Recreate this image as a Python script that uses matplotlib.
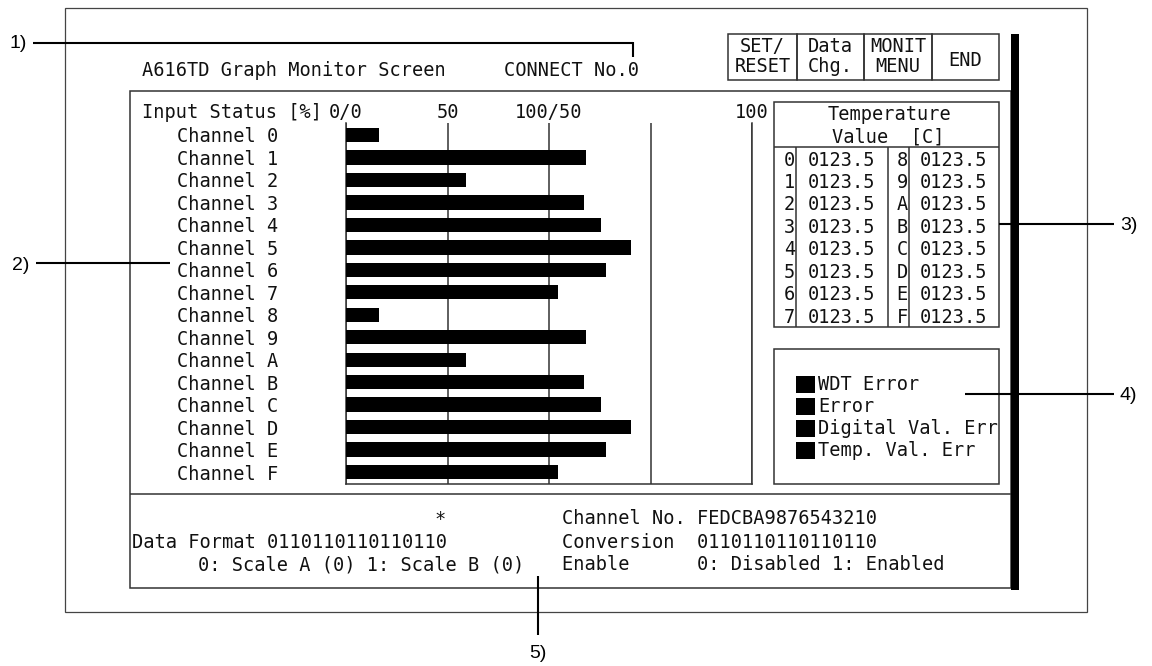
import matplotlib.pyplot as plt
from matplotlib.patches import Rectangle

W, H = 1152, 666
MONO = 'DejaVu Sans Mono'
SANS = 'Liberation Sans'
FS = 13.4

# screen data
channels = list('0123456789ABCDEF')
input_status = [8.1, 59.1, 29.6, 58.6, 62.8, 70.2, 64.0, 52.2,
                8.1, 59.1, 29.6, 58.6, 62.8, 70.2, 64.0, 52.2]
scale_ticks = [0, 25, 50, 75, 100]
scale_labels = ['0/0', '50', '100/50', '', '100']
temp_values = ['0123.5'] * 16
status_items = ['WDT Error', 'Error', 'Digital Val. Err', 'Temp. Val. Err']
buttons = [['SET/', 'RESET'], ['Data', 'Chg.'], ['MONIT', 'MENU'], ['END']]
data_format = '0110110110110110'
conversion = '0110110110110110'
channel_order = 'FEDCBA9876543210'
callouts = ['1)', '2)', '3)', '4)', '5)']


def line(ax, x0, y0, x1, y1, lw=1.1, color='#333333'):
    ax.plot([x0, x1], [y0, y1], color=color, lw=lw, solid_capstyle='butt')


def box(ax, x, y, w, h, lw=1.1, ec='#333333', fc='none'):
    ax.add_patch(Rectangle((x, y), w, h, lw=lw, ec=ec, fc=fc))


def txt(ax, x, y, s, ha='left', **kw):
    ax.text(x, y, s, ha=ha, va='center', family=MONO, fontsize=FS,
            color='#111111', **kw)


fig = plt.figure(figsize=(W / 100, H / 100), dpi=100)
ax = fig.add_axes([0, 0, 1, 1])
ax.set_xlim(0, W)
ax.set_ylim(H, 0)
ax.axis('off')

# frames
box(ax, 65, 8, 1022, 604, lw=0.9, ec='#444444')
box(ax, 130, 91, 881, 497)
line(ax, 130, 494, 1011, 494)
box(ax, 1011, 34, 8, 556, lw=0, ec='none', fc='black')

# title line
txt(ax, 142, 70, 'A616TD Graph Monitor Screen')
txt(ax, 504, 70, 'CONNECT No.0')

# buttons
bx0, bw = 728, [69, 67, 68, 67]
x = bx0
for lab, w in zip(buttons, bw):
    box(ax, x, 34, w, 46)
    if len(lab) == 2:
        txt(ax, x + w / 2, 47, lab[0], ha='center')
        txt(ax, x + w / 2, 67, lab[1], ha='center')
    else:
        txt(ax, x + w / 2, 61, lab[0], ha='center')
    x += w

# bar chart
txt(ax, 142, 112, 'Input Status [%]')
left, right, top, bottom = 346, 752, 123, 484
row0, step = 135, 22.47
bax = fig.add_axes([left / W, 1 - bottom / H, (right - left) / W, (bottom - top) / H])
bax.set_facecolor('none')
bax.barh(range(16), input_status, height=0.64, color='black', zorder=3)
bax.set_xlim(0, 100)
bax.set_ylim((bottom - row0) / step, -(row0 - top) / step)
bax.xaxis.tick_top()
bax.set_xticks(scale_ticks, scale_labels, family=MONO, fontsize=FS, color='#111111')
bax.set_yticks(range(16), ['Channel ' + c for c in channels],
               family=MONO, fontsize=FS, color='#111111')
bax.tick_params(length=0)
bax.tick_params(axis='y', pad=49)
bax.tick_params(axis='x', pad=1)
bax.grid(axis='x', color='#333333', lw=1.1, zorder=1)
bax.spines['top'].set_visible(False)
for s in ['left', 'right', 'bottom']:
    bax.spines[s].set_color('#333333')
    bax.spines[s].set_linewidth(1.1)

# temperature table
box(ax, 774, 102, 225, 225)
line(ax, 774, 147, 999, 147)
for cx in [796, 888, 909]:
    line(ax, cx, 147, cx, 327)
txt(ax, 890, 115, 'Temperature', ha='center')
txt(ax, 888, 137, 'Value  [C]', ha='center')
for i in range(8):
    y = 160 + 22.45 * i
    txt(ax, 795, y, channels[i], ha='right')
    txt(ax, 808, y, temp_values[i])
    txt(ax, 908, y, channels[i + 8], ha='right')
    txt(ax, 920, y, temp_values[i + 8])

# status box
box(ax, 774, 349, 225, 135)
for i, s in enumerate(status_items):
    y = 384 + 22.2 * i
    box(ax, 796, y - 8.5, 19, 17, lw=0, ec='none', fc='black')
    txt(ax, 818, y, s)

# bottom panel
txt(ax, 440, 519, '*', ha='center')
txt(ax, 132, 542, 'Data Format ' + data_format)
txt(ax, 198, 565, '0: Scale A (0) 1: Scale B (0)')
txt(ax, 562, 519, 'Channel No. ' + channel_order)
txt(ax, 562, 542, 'Conversion  ' + conversion)
txt(ax, 562, 565, 'Enable      0: Disabled 1: Enabled')

# callouts
lk = dict(lw=1.5, color='black')
line(ax, 33, 43, 633, 43, **lk)
line(ax, 633, 42.3, 633, 57, **lk)
line(ax, 36, 263, 170, 263, **lk)
line(ax, 999, 224, 1114, 224, **lk)
line(ax, 965, 394, 1114, 394, **lk)
line(ax, 538, 576, 538, 635, **lk)
ck = dict(family=SANS, fontsize=14, color='black', va='center')
ax.text(27, 44, callouts[0], ha='right', **ck)
ax.text(29, 265, callouts[1], ha='right', **ck)
ax.text(1120, 226, callouts[2], ha='left', **ck)
ax.text(1120, 396, callouts[3], ha='left', **ck)
ax.text(538, 653, callouts[4], ha='center', **ck)

fig.savefig('out.png', dpi=100)
